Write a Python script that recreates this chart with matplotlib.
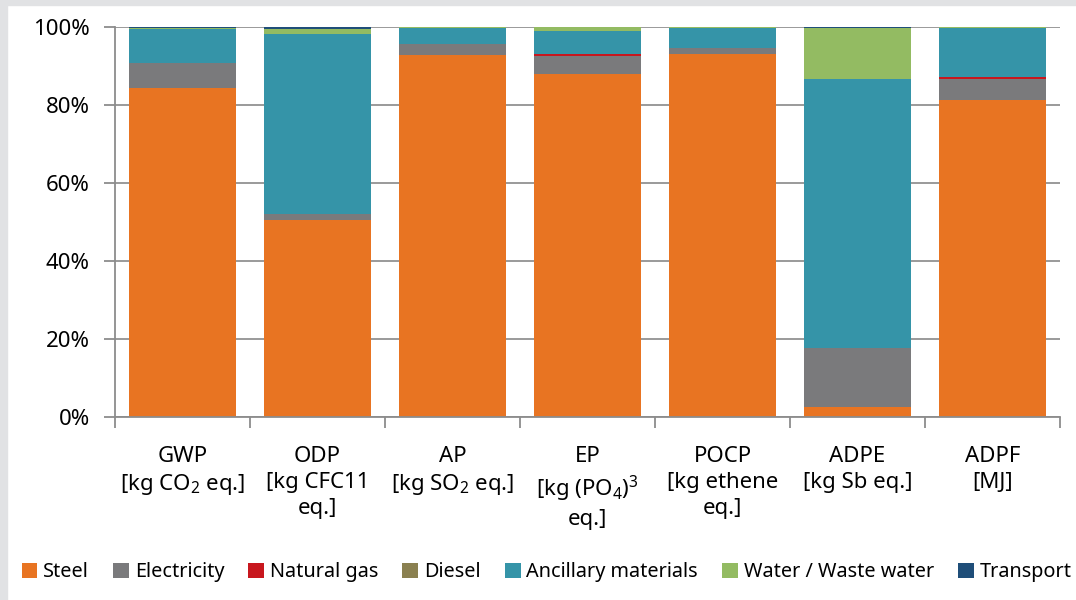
import numpy as np
import matplotlib
matplotlib.use("Agg")
import matplotlib.pyplot as plt
from matplotlib.patches import Rectangle

plt.rcParams['font.family'] = ['Noto Sans', 'DejaVu Sans']
plt.rcParams['mathtext.fontset'] = 'custom'
plt.rcParams['mathtext.rm'] = 'Noto Sans'
plt.rcParams['mathtext.it'] = 'Noto Sans'

categories = [
    "GWP\n[kg CO$_2$ eq.]",
    "ODP\n[kg CFC11\neq.]",
    "AP\n[kg SO$_2$ eq.]",
    "EP\n[kg (PO$_4$)$^3$\neq.]",
    "POCP\n[kg ethene\neq.]",
    "ADPE\n[kg Sb eq.]",
    "ADPF\n[MJ]",
]

# shares in percent, per category
steel = [84.3, 50.4, 92.7, 87.8, 93.0, 2.6, 81.3]
electricity = [6.4, 1.6, 2.8, 4.8, 1.6, 15.1, 5.4]
natural_gas = [0.0, 0.0, 0.0, 0.4, 0.0, 0.0, 0.3]
diesel = [0.1, 0.0, 0.0, 0.0, 0.0, 0.0, 0.0]
ancillary = [8.5, 46.2, 4.2, 5.8, 5.1, 69.0, 12.6]
water = [0.4, 1.1, 0.3, 1.2, 0.3, 13.0, 0.2]
transport = [0.3, 0.7, 0.0, 0.0, 0.0, 0.3, 0.2]

series = [
    ("Steel", steel, "#E87422"),
    ("Electricity", electricity, "#7A7A7C"),
    ("Natural gas", natural_gas, "#C8171E"),
    ("Diesel", diesel, "#8A8050"),
    ("Ancillary materials", ancillary, "#3594A8"),
    ("Water / Waste water", water, "#93BB62"),
    ("Transport", transport, "#1F4E79"),
]

fig = plt.figure(figsize=(10.76, 6.0), dpi=100)
fig.patches.append(Rectangle((0, 0), 7 / 1076, 1, transform=fig.transFigure,
                             color="#E1E2E4", zorder=0))
fig.patches.append(Rectangle((0, 1 - 5 / 600), 1, 5 / 600, transform=fig.transFigure,
                             color="#E1E2E4", zorder=0))

ax = fig.add_axes([115 / 1076, 1 - 416.7 / 600, 945 / 1076, 390 / 600])

x = np.arange(len(categories))
bottom = np.zeros(len(categories))
for name, vals, col in series:
    ax.bar(x, vals, bottom=bottom, width=0.79, color=col, label=name, zorder=2)
    bottom += np.array(vals)

ax.set_xlim(-0.5, len(categories) - 0.5)
ax.set_ylim(0, 100)
ax.set_yticks([0, 20, 40, 60, 80, 100])
ax.set_yticklabels([f"{v}%" for v in [0, 20, 40, 60, 80, 100]], fontsize=16)
ax.yaxis.grid(True, color="#929292", linewidth=1.3, zorder=0)

for s in ["top", "right"]:
    ax.spines[s].set_visible(False)
for s in ["left", "bottom"]:
    ax.spines[s].set_color("#8C8C8C")
    ax.spines[s].set_linewidth(1.3)
ax.tick_params(axis="y", length=8, color="#8C8C8C", width=1.3, pad=10)

# category boundaries get the ticks, labels sit in between
ax.set_xticks(np.arange(-0.5, len(categories)))
ax.set_xticklabels([])
ax.tick_params(axis="x", length=8, color="#8C8C8C", width=1.3, direction="out")
for i, lab in enumerate(categories):
    ax.text(i, -7.5, lab, ha="center", va="top", fontsize=16, linespacing=1.3)

handles, labels = ax.get_legend_handles_labels()
fig.legend(handles, labels, loc="center", bbox_to_anchor=(0.508, 1 - 572 / 600),
           ncol=7, frameon=False, fontsize=14.3, handlelength=0.8, handleheight=0.8,
           handletextpad=0.3, columnspacing=1.2, borderaxespad=0)

fig.savefig("out.png", dpi=100, facecolor="white")
